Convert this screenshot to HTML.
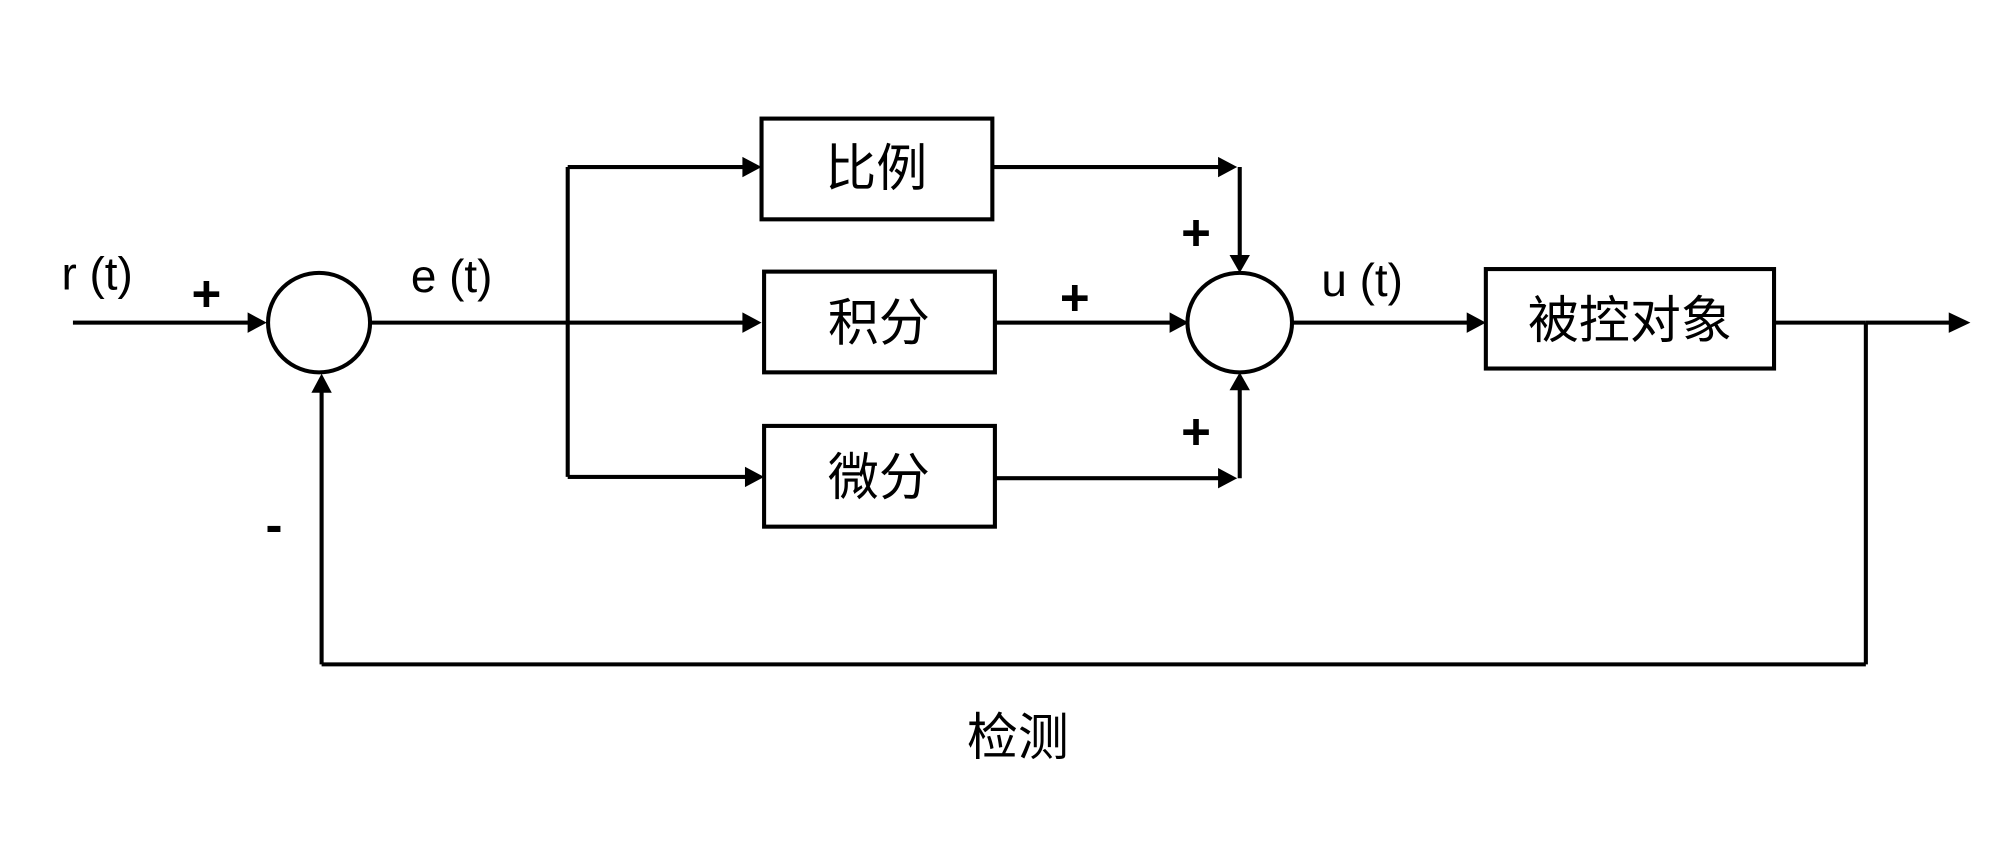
<!DOCTYPE html>
<html><head><meta charset="utf-8"><style>
html,body{margin:0;padding:0;background:#fff;}
svg{display:block;}
text{font-family:"Liberation Sans","Noto Sans CJK SC",sans-serif;fill:#000;}
</style></head><body>
<svg width="2000" height="848" viewBox="0 0 1568 665" xmlns="http://www.w3.org/2000/svg">
<defs>
<marker id="a" markerWidth="10" markerHeight="10" refX="9" refY="5" orient="auto" markerUnits="userSpaceOnUse">
<path d="M0,0 L15,5 L0,10 Z" fill="#000" transform="scale(0.6667,1)"/>
</marker>
</defs>
<g stroke="#000" stroke-width="3.2" fill="none">
<ellipse cx="250" cy="253" rx="40" ry="39"/>
<ellipse cx="972" cy="253" rx="41" ry="39"/>
<rect x="597" y="93" width="181" height="79"/>
<rect x="599" y="213" width="181" height="79"/>
<rect x="599" y="334" width="181" height="79"/>
<rect x="1165" y="211" width="226" height="78"/>
<line x1="445" y1="131" x2="445" y2="374"/>
<line x1="290" y1="253" x2="445" y2="253"/>
<line x1="1391" y1="253" x2="1463" y2="253"/>
<line x1="1463" y1="253" x2="1463" y2="521"/>
<line x1="252" y1="521" x2="1463" y2="521"/>
<line x1="972" y1="131" x2="972" y2="200"/>
<line x1="972" y1="375" x2="972" y2="305"/>
</g>
<g fill="#000">
<rect x="57" y="251.4" width="140" height="3.2"/>
<path d="M194,245 L209,253 L194,261Z"/>
<rect x="445" y="129.4" width="140" height="3.2"/><path d="M582,123 L597,131 L582,139Z"/>
<rect x="445" y="251.4" width="140" height="3.2"/><path d="M582,245 L597,253 L582,261Z"/>
<rect x="445" y="372.4" width="141" height="3.2"/><path d="M584,366 L599,374 L584,382Z"/>
<rect x="778" y="129.4" width="180" height="3.2"/><path d="M955,123 L970,131 L955,139Z"/>
<rect x="780" y="251.4" width="140" height="3.2"/><path d="M917,245 L932,253 L917,261Z"/>
<rect x="780" y="373.4" width="178" height="3.2"/><path d="M955,367 L970,375 L955,383Z"/>
<path d="M964,200 L972,214 L980,200Z"/>
<path d="M964,306 L972,292 L980,306Z"/>
<rect x="1013" y="251.4" width="140" height="3.2"/><path d="M1150,245 L1165,253 L1150,261Z"/>
<rect x="1463" y="251.4" width="68" height="3.2"/><path d="M1528,245 L1545,253 L1528,261Z"/>
<rect x="250.4" y="307" width="3.2" height="214"/><path d="M244,308 L252,293 L260,308Z"/>
</g>
<g font-size="36">
<text x="48" y="227">r (t)</text>
<text x="322" y="229">e (t)</text>
<text x="1036" y="232">u (t)</text>
</g>
<g font-size="40" font-weight="bold">
<text x="150" y="244">+</text>
<text x="926" y="196">+</text>
<text x="831" y="247">+</text>
<text x="926" y="352">+</text>
<text x="208" y="425">-</text>
</g>
<g font-size="40" text-anchor="middle">
<text x="687" y="146">比例</text>
<text x="689" y="267">积分</text>
<text x="689" y="388">微分</text>
<text x="1278" y="265">被控对象</text>
<text x="798" y="592">检测</text>
</g>
</svg>
</body></html>
